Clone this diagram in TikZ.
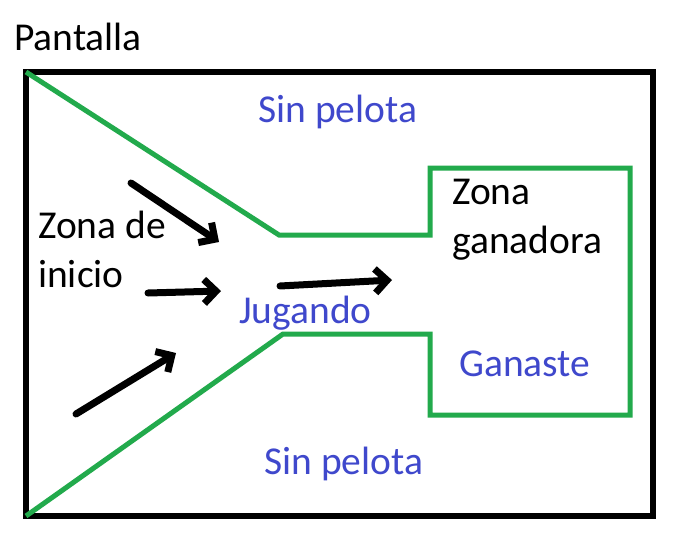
\documentclass[tikz,border=0pt]{standalone}
\usepackage{fontspec}
\setmainfont{Carlito}
\usetikzlibrary{arrows.meta}
\definecolor{pgreen}{RGB}{34,170,76}
\definecolor{pblue}{RGB}{63,72,204}
\tikzset{
  lbl/.style={anchor=base west, inner sep=0pt, font=\fontsize{39.5}{49}\selectfont, align=left},
  blbl/.style={lbl, text=pblue},
  marker/.style={line width=7pt, black, line cap=round,
    -{Straight Barb[length=12pt,width=24pt,line width=7pt]}},
  zone/.style={pgreen, line width=5pt, line join=miter},
  screen/.style={black, line width=5.5pt}
}
\begin{document}
\begin{tikzpicture}[x=1pt,y=-1pt]
\useasboundingbox (0,0) rectangle (693,538);
\fill[white] (0,0) rectangle (693,538);
% screen
\coordinate (tl) at (26,72);
\coordinate (br) at (653,516);
\coordinate (bl) at (26,516);
\draw[screen] (tl) rectangle (br);
% zone boundary
\coordinate (u1) at (279,235);
\coordinate (u2) at (430,235);
\coordinate (g1) at (430,168);
\coordinate (g2) at (630,168);
\coordinate (g3) at (630,415);
\coordinate (g4) at (430,415);
\coordinate (l2) at (430,334);
\coordinate (l1) at (283,334);
\draw[zone] (tl) -- (u1) -- (u2) -- (g1) -- (g2) -- (g3) -- (g4) -- (l2) -- (l1) -- (bl);
% labels
\node[lbl] (pantalla) at (14,50) {Pantalla};
\node[blbl] (sintop) at (258,122) {Sin pelota};
\node[lbl] (inicio) at (38,287) {Zona de\\inicio};
\node[blbl] (jugando) at (239,323) {Jugando};
\node[lbl] (ganadora) at (452,253) {Zona\\ganadora};
\node[blbl] (ganaste) at (459,376) {Ganaste};
\node[blbl] (sinbot) at (264,474) {Sin pelota};
% arrows
\coordinate (a1s) at (131,183);
\coordinate (a1e) at (219,242);
\coordinate (a2s) at (148,293);
\coordinate (a2e) at (221,291);
\coordinate (a3s) at (76,414);
\coordinate (a3e) at (176,353);
\coordinate (a4s) at (280,286);
\coordinate (a4e) at (392,280);
\draw[marker] (a1s) -- (a1e);
\draw[marker] (a2s) -- (a2e);
\draw[marker] (a3s) -- (a3e);
\draw[marker] (a4s) -- (a4e);
\end{tikzpicture}
\end{document}
